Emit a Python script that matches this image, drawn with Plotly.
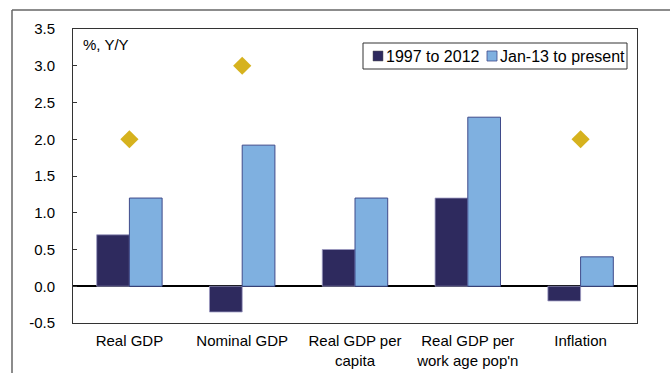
import plotly.graph_objects as go

categories = ["Real GDP", "Nominal GDP", "Real GDP per<br>capita", "Real GDP per<br>work age pop'n", "Inflation"]
series_names = ["1997 to 2012", "Jan-13 to present"]
series_1997_2012 = [0.7, -0.35, 0.5, 1.2, -0.2]
series_jan13 = [1.2, 1.92, 1.2, 2.3, 0.4]
target_cats = ["Real GDP", "Nominal GDP", "Inflation"]
target_vals = [2.0, 3.0, 2.0]
y_ticks = [-0.5, 0.0, 0.5, 1.0, 1.5, 2.0, 2.5, 3.0, 3.5]
y_ticktext = ["-0.5", "0.0", "0.5", "1.0", "1.5", "2.0", "2.5", "3.0", "3.5"]

FONT = "Liberation Sans, Arial, sans-serif"
DARK, LIGHT = "#2E2A5E", "#7FB0E0"

fig = go.Figure()
fig.add_trace(go.Bar(
    x=categories, y=series_1997_2012, name=series_names[0],
    marker=dict(color=DARK, line=dict(color="#9A98C0", width=0.8)),
))
fig.add_trace(go.Bar(
    x=categories, y=series_jan13, name=series_names[1],
    marker=dict(color=LIGHT, line=dict(color="#3F4A8A", width=1)),
))
fig.add_trace(go.Scatter(
    x=target_cats, y=target_vals, mode="markers", showlegend=False,
    marker=dict(symbol="diamond", size=14, color="#D6B21E"),
))

W, H = 670, 373
L, R, T, B = 73, 33, 29, 50
pw, ph = W - L - R, H - T - B

def px_x(px):
    return (px - L) / pw

def px_y(py):
    return (H - B - py) / ph

# legend (drawn as layout decorations to match the compact original style)
leg_shapes = [
    dict(type="rect", xref="paper", yref="paper", x0=px_x(363), x1=px_x(627),
         y0=px_y(43), y1=px_y(69), line=dict(color="#333", width=1), fillcolor="white"),
    dict(type="rect", xref="paper", yref="paper", x0=px_x(373), x1=px_x(383),
         y0=px_y(51), y1=px_y(61), line=dict(color="#555", width=0.5), fillcolor=DARK),
    dict(type="rect", xref="paper", yref="paper", x0=px_x(487), x1=px_x(497),
         y0=px_y(51), y1=px_y(61), line=dict(color="#3F4A8A", width=0.8), fillcolor=LIGHT),
]
leg_ann = [
    dict(text=series_names[0], xref="paper", yref="paper", x=px_x(384), y=px_y(56),
         xanchor="left", yanchor="middle", showarrow=False, font=dict(family=FONT, size=16)),
    dict(text=series_names[1], xref="paper", yref="paper", x=px_x(498), y=px_y(56),
         xanchor="left", yanchor="middle", showarrow=False, font=dict(family=FONT, size=16)),
]

fig.update_layout(
    width=W, height=H,
    margin=dict(l=L, r=R, t=T, b=B, autoexpand=False),
    paper_bgcolor="white", plot_bgcolor="white",
    font=dict(family=FONT, size=15, color="black"),
    barmode="group", bargap=0.42, bargroupgap=0,
    showlegend=False,
    xaxis=dict(
        showline=True, mirror=True, linecolor="#333", linewidth=1,
        ticks="", showgrid=False, tickfont=dict(size=15),
        ticklabelstandoff=4, automargin=False,
    ),
    yaxis=dict(
        range=[-0.5, 3.5], tickvals=y_ticks, ticktext=y_ticktext,
        showline=True, mirror=True, linecolor="#333", linewidth=1,
        ticks="inside", ticklen=4, tickcolor="#333",
        showgrid=False, zeroline=True, zerolinecolor="black", zerolinewidth=1.5,
        ticklabelstandoff=14, tickfont=dict(size=15), automargin=False,
    ),
    annotations=[dict(
        text="%, Y/Y", xref="paper", yref="paper", x=px_x(81), y=px_y(45),
        xanchor="left", yanchor="middle", showarrow=False,
        font=dict(family=FONT, size=15),
    )] + leg_ann,
    shapes=[
        dict(type="line", xref="paper", yref="paper", x0=px_x(12), x1=px_x(672),
             y0=px_y(10), y1=px_y(10), line=dict(color="#666", width=1.5)),
        dict(type="line", xref="paper", yref="paper", x0=px_x(12), x1=px_x(12),
             y0=px_y(10), y1=px_y(375), line=dict(color="#666", width=1.5)),
    ] + leg_shapes,
)

fig.write_html("out.html")
